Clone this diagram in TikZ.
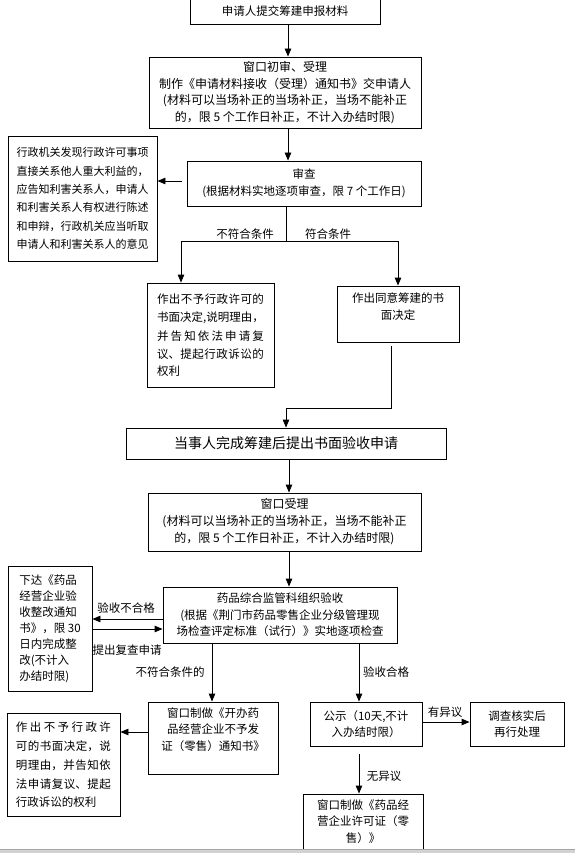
\documentclass[tikz,border=0pt]{standalone}
\usepackage{fontspec}
\setmainfont{Noto Sans CJK SC}
\usetikzlibrary{arrows.meta}
\XeTeXlinebreaklocale "zh"
\XeTeXlinebreakskip=0pt plus 6pt
\newcommand{\spreadline}[2]{\parbox{#1}{\parfillskip=0pt\relax #2}}
\begin{document}
\begin{tikzpicture}[x=1pt,y=-1pt,
  box/.style={draw, line width=0.9pt, inner sep=0pt, align=center, font=\fontsize{11.5}{16.5}\selectfont},
  lbox/.style={box, align=left},
  txt/.style={inner sep=0pt, align=center, font=\fontsize{11.5}{16.5}\selectfont},
  arr/.style={line width=0.9pt, -{Triangle[length=8pt,width=6.5pt]}},
  ln/.style={line width=0.9pt},
  lab/.style={inner sep=0pt, font=\fontsize{11.5}{14}\selectfont}]
\useasboundingbox (0,0) rectangle (575,853);
\fill[white] (0,0) rectangle (575,853);
\clip (0,0) rectangle (575,853);

% ---------- boxes ----------
\node[box, minimum width=190pt, minimum height=26pt] (b1) at (285,11) {申请人提交筹建申报材料};
\node[box, minimum width=272pt, minimum height=71pt, font=\fontsize{12}{16.5}\selectfont] (b2) at (285,92.5)
  {窗口初审、受理\\制作《申请材料接收（受理）通知书》交申请人\\(材料可以当场补正的当场补正，当场不能补正\\的，限 5 个工作日补正，不计入办结时限)};
\node[box, minimum width=234pt, minimum height=45pt] (b3) at (304,183.5)
  {审查\\(根据材料实地逐项审查，限 7 个工作日)};
\node[lbox, minimum width=149pt, minimum height=125pt, font=\fontsize{11}{18.4}\selectfont] (l1) at (82.5,198.5)
  {行政机关发现行政许可事项\\直接关系他人重大利益的，\\应告知利害关系人，申请人\\和利害关系人有权进行陈述\\和申辩，行政机关应当听取\\申请人和利害关系人的意见};
\node[lbox, minimum width=127pt, minimum height=104pt, font=\fontsize{11.5}{18.3}\selectfont] (d1) at (210.5,335)
  {\spreadline{107pt}{作出不予行政许可的}\\\spreadline{107pt}{书面决定,说明理由，}\\\spreadline{107pt}{并告知依法申请复}\\\spreadline{107pt}{议、提起行政诉讼的}\\权利};
\node[box, minimum width=122pt, minimum height=56pt] (d2) at (398,314) {};
\node[txt, anchor=north] (d2t) at ([yshift=-7pt]d2.north) {作出同意筹建的书\\面决定};
\node[box, minimum width=320pt, minimum height=31pt, font=\fontsize{14}{16}\selectfont] (e1) at (286,443.5)
  {当事人完成筹建后提出书面验收申请};
\node[box, minimum width=273pt, minimum height=58pt, font=\fontsize{12}{17}\selectfont] (e2) at (284.5,522)
  {窗口受理\\(材料可以当场补正的当场补正，当场不能补正\\的，限 5 个工作日补正，不计入办结时限)};
\node[box, minimum width=234pt, minimum height=56pt, font=\fontsize{11.5}{16.5}\selectfont] (f1) at (280,615)
  {药品综合监管科组织验收\\(根据《荆门市药品零售企业分级管理现\\场检查评定标准（试行）》实地逐项检查};
\node[lbox, minimum width=84pt, minimum height=125pt, font=\fontsize{11.5}{16}\selectfont] (g1) at (50,628.5)
  {下达《药品\\经营企业验\\收整改通知\\书》，限 30\\日内完成整\\改(不计入\\办结时限)};
\node[box, minimum width=130pt, minimum height=72pt] (h1) at (213,738) {};
\node[txt, anchor=north] (h1t) at ([yshift=-6pt]h1.north) {窗口制做《开办药\\品经营企业不予发\\证（零售）通知书》};
\node[lbox, minimum width=113pt, minimum height=103pt, font=\fontsize{11.5}{19}\selectfont] (h2) at (63.5,764.5)
  {\spreadline{95pt}{作出不予行政许}\\\spreadline{95pt}{可的书面决定，说}\\\spreadline{95pt}{明理由，并告知依}\\\spreadline{95pt}{法申请复议、提起}\\行政诉讼的权利};
\node[box, minimum width=112pt, minimum height=44pt] (p1) at (366,724) {公示（10天,不计\\入办结时限）};
\node[box, minimum width=94pt, minimum height=44pt] (p2) at (517,724) {调查核实后\\再行处理};
\node[box, minimum width=120pt, minimum height=72pt] (q1) at (363,830) {};
\node[txt, anchor=north] (q1t) at ([yshift=-6pt]q1.north) {窗口制做《药品经\\营企业许可证（零\\售）》};

% ---------- helper coordinates ----------
\coordinate (vA) at (288,0);
\coordinate (vB) at (286,0);
\coordinate (vC) at (289,0);
\coordinate (vD) at (212,0);
\coordinate (vE) at (359,0);
\coordinate (s1) at (182,181);
\coordinate (br) at (286,241);
\coordinate (jl) at (181,241);
\coordinate (jr) at (398,241);
\coordinate (s2) at (391,346);
\coordinate (tr) at (286,408);
\coordinate (hB) at (0,619);
\coordinate (hC) at (0,629);
\coordinate (hD) at (0,732);
\coordinate (hE) at (0,722);
\coordinate (s3) at (359,754);

% ---------- connectors ----------
\draw[arr] (b1.south -| vA) -- (b2.north -| vA);
\draw[arr] (b2.south -| vA) -- (b3.north -| vA);
\draw[arr] (s1) -- (s1 -| l1.east);
\draw[ln] (b3.south -| vB) -- (br);
\draw[ln] (jl) -- (jr);
\draw[arr] (jl) -- (jl |- d1.north);
\draw[arr] (jr) -- (jr |- d2.north);
\draw[arr] (s2) |- (tr) -- (tr |- e1.north);
\draw[arr] (e1.south -| vC) -- (e2.north -| vC);
\draw[arr] (e2.south -| vC) -- (f1.north -| vC);
\draw[arr] (f1.west |- hB) -- (g1.east |- hB);
\draw[arr] (g1.east |- hC) -- (f1.west |- hC);
\draw[arr] (f1.south -| vD) -- (h1.north -| vD);
\draw[arr] (f1.south -| vE) -- (p1.north -| vE);
\draw[arr] (h1.west |- hD) -- (h2.east |- hD);
\draw[arr] (p1.east |- hE) -- (p2.west |- hE);
\draw[arr] (s3) -- (s3 |- q1.north);

% ---------- labels ----------
\node[lab] (t1) at (245,234) {不符合条件};
\node[lab] (t2) at (328,234) {符合条件};
\node[lab] (t3) at (126,608) {验收不合格};
\node[lab] (t4) at (127,650) {提出复查申请};
\node[lab] (t5) at (170,672) {不符合条件的};
\node[lab] (t6) at (386,672) {验收合格};
\node[lab] (t7) at (445,712) {有异议};
\node[lab] (t8) at (384,776) {无异议};

% ---------- bottom bar ----------
\fill[gray!35] (0,849) rectangle (575,853);
\draw[gray!70, line width=0.6pt] (0,849) -- (575,849);
\end{tikzpicture}
\end{document}
